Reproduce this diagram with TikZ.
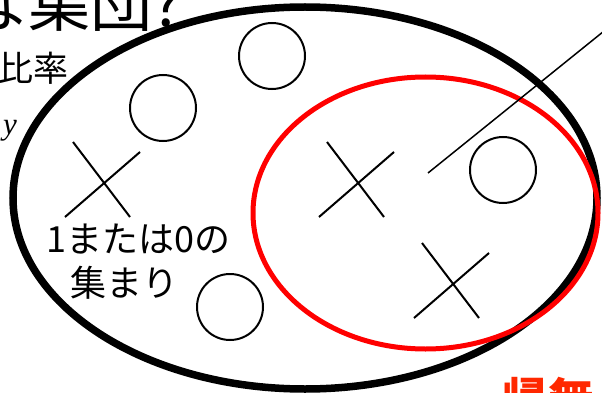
\documentclass[tikz,border=0pt]{standalone}
\usepackage{fontspec}
\setmainfont{Noto Sans CJK JP}
\newfontfamily\tms{Liberation Serif}
\definecolor{kred}{RGB}{255,40,0}
\begin{document}
\begin{tikzpicture}[x=1pt,y=-1pt,every node/.style={inner sep=0pt,anchor=base west},
        mr/.style={circle,draw,line width=2pt,minimum size=66pt,inner sep=0,anchor=center},
        bt/.style={line width=2pt},
        fs/.style={font=\fontsize{#1}{#1}\selectfont}]
    \useasboundingbox (0,0) rectangle (602,393);
    \clip (0,0) rectangle (602,393);
    \draw[line width=7.5pt] (305,198) ellipse [x radius=292, y radius=191];
    \foreach \x/\y/\n in {163/108/1,272/56/2,503/170/3,230/307/4}{
        \node[mr] (m\n) at (\x,\y) {};
    }
    \foreach \x/\y/\n in {103/182/1,357/182/2,452/283/3}{
        \coordinate (k\n) at (\x,\y);
        \draw[bt] (k\n) ++(-30,-40) -- ++(57,75);
        \draw[bt] (k\n) ++(-38,35) -- ++(75,-65);
    }
    \draw[red,line width=5pt] (425.5,213) ellipse [x radius=172.5, y radius=136];
    \coordinate (s) at (428,173);
    \coordinate (e) at (645,-2);
    \draw[line width=1.5pt] (s) -- (e);
    \node[fs=62] (ttl) at (-34,27) {な集団?};
    \node[fs=35] (hr) at (-2,82) {比率};
    \node[fs=31] (yy) at (3,135) {\tms\itshape y};
    \node[fs=36] (t1) at (46,252) {1または0の};
    \node[fs=36] (t2) at (70,296) {集まり};
    \node[fs=46,text=kred] (kn) at (502,416) {\bfseries 帰無};
\end{tikzpicture}
\end{document}
